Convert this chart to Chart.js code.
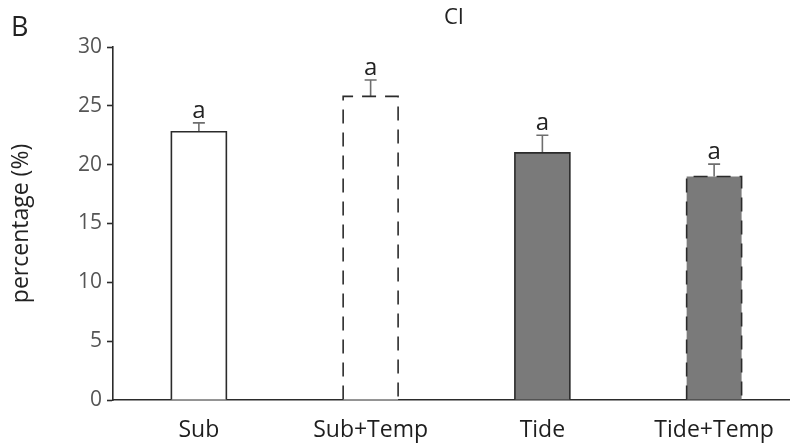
<!DOCTYPE html>
<html>
<head>
<meta charset="utf-8">
<script src="https://cdn.jsdelivr.net/npm/chart.js@4"></script>
<style>
  html, body { margin: 0; padding: 0; background: #fff; }
  #frame { width: 790px; height: 447px; overflow: hidden; }
  #wrap { width: 800px; height: 447px; }
</style>
</head>
<body>
<div id="frame"><div id="wrap"><canvas id="chart_ci"></canvas></div></div>
<script>
// DATA
const groups = ['Sub', 'Sub+Temp', 'Tide', 'Tide+Temp'];
const means = [22.8, 25.8, 21.0, 19.0];
const errors = [0.75, 1.4, 1.5, 1.05];
const letters = ['a', 'a', 'a', 'a'];
const dashed = [false, true, false, true];
const fills = ['#ffffff', '#ffffff', '#7a7a7a', '#7a7a7a'];
const yTicks = [0, 5, 10, 15, 20, 25, 30];

const FONT = '"Open Sans", "Noto Sans", sans-serif';

// bars are drawn without border, the outline (solid or dashed) comes from here
const outlinePlugin = {
  id: 'outline',
  afterDatasetsDraw(chart) {
    const ctx = chart.ctx;
    const meta = chart.getDatasetMeta(0);
    const yScale = chart.scales.y;
    ctx.save();
    meta.data.forEach(function(bar, i) {
      const p = bar.getProps(['x', 'y', 'base', 'width'], true);
      const l = p.x - p.width / 2, r = p.x + p.width / 2;
      // error bar
      const top = yScale.getPixelForValue(means[i] + errors[i]);
      ctx.strokeStyle = '#6e6e6e';
      ctx.lineWidth = 1.6;
      ctx.setLineDash([]);
      ctx.beginPath();
      ctx.moveTo(p.x, p.y);
      ctx.lineTo(p.x, top);
      ctx.moveTo(p.x - 6, top);
      ctx.lineTo(p.x + 6, top);
      ctx.stroke();
      // outline
      ctx.strokeStyle = '#2b2b2b';
      ctx.lineWidth = 1.6;
      ctx.setLineDash(dashed[i] ? [14, 9] : []);
      ctx.beginPath();
      ctx.moveTo(l, p.base);
      ctx.lineTo(l, p.y);
      ctx.lineTo(r, p.y);
      ctx.lineTo(r, p.base);
      ctx.stroke();
      // letter
      ctx.setLineDash([]);
      ctx.fillStyle = '#222';
      ctx.font = '24px ' + FONT;
      ctx.textAlign = 'center';
      ctx.textBaseline = 'alphabetic';
      ctx.fillText(letters[i], p.x, top - 5);
    });
    ctx.restore();
  },
  afterDraw(chart) {
    const ctx = chart.ctx;
    ctx.save();
    ctx.fillStyle = '#222';
    ctx.textBaseline = 'middle';
    ctx.textAlign = 'left';
    ctx.font = '27px ' + FONT;
    ctx.fillText('B', 11, 28);
    ctx.textAlign = 'center';
    ctx.font = '22px ' + FONT;
    ctx.fillText('CI', 454, 18);
    ctx.restore();
  }
};

const ctx_ci = document.getElementById('chart_ci');
const chart_ci = new Chart(ctx_ci, {
  type: 'bar',
  data: {
    labels: groups,
    datasets: [{
      data: means,
      backgroundColor: fills,
      borderWidth: 0,
      barPercentage: 0.32,
      categoryPercentage: 1.0
    }]
  },
  options: {
    responsive: true,
    maintainAspectRatio: false,
    animation: false,
    layout: { padding: { top: 47, right: 0, left: 0, bottom: 0 } },
    plugins: {
      legend: { display: false },
      tooltip: { enabled: false }
    },
    scales: {
      x: {
        grid: { display: false, drawTicks: false },
        border: { display: true, color: '#2b2b2b', width: 1.6 },
        ticks: { color: '#1e1e1e', font: { family: FONT, size: 23 }, padding: 17 },
        afterFit: function(scale) { scale.height = 47; }
      },
      y: {
        min: 0,
        max: 30,
        afterBuildTicks: function(scale) {
          scale.ticks = yTicks.map(function(v) { return { value: v }; });
        },
        afterFit: function(scale) { scale.width = 113; },
        grid: { drawOnChartArea: false, drawTicks: true, tickLength: 6, tickColor: '#2b2b2b', tickWidth: 1.6 },
        border: { display: true, color: '#2b2b2b', width: 1.6 },
        ticks: { color: '#555', font: { family: FONT, size: 21 }, padding: 5 },
        title: {
          display: true,
          text: 'percentage (%)',
          color: '#222',
          font: { family: FONT, size: 23 },
          padding: { top: 8, bottom: 0 }
        }
      }
    }
  },
  plugins: [outlinePlugin]
});
</script>
</body>
</html>
